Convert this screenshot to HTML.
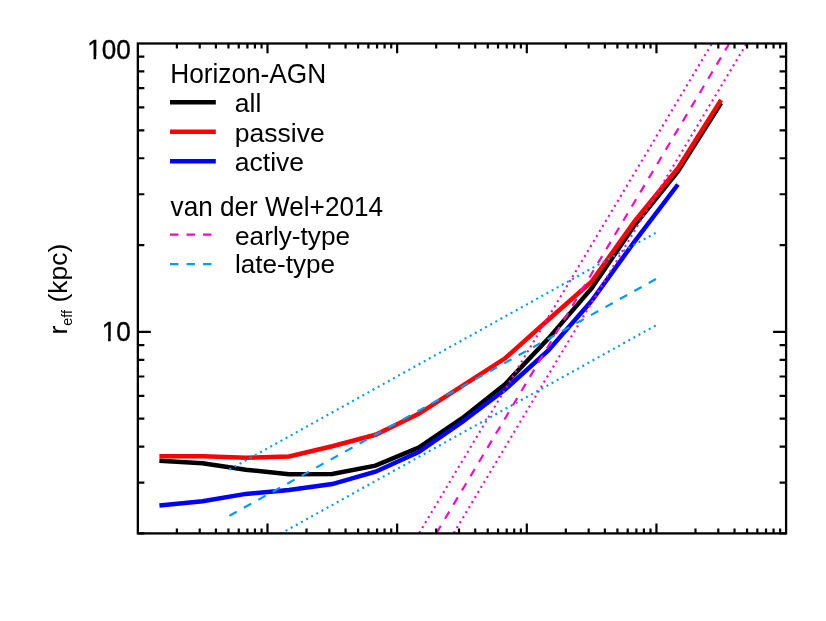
<!DOCTYPE html>
<html><head><meta charset="utf-8"><title>r_eff</title>
<style>html,body{margin:0;padding:0;background:#fff;}body{width:826px;height:621px;overflow:hidden;font-family:"Liberation Sans",sans-serif;}svg{display:block;will-change:transform}</style>
</head><body>
<svg width="826" height="621" viewBox="0 0 826 621">
<rect x="0" y="0" width="826" height="621" fill="#fff"/>
<clipPath id="c"><rect x="137.85" y="43.5" width="648.25" height="489.9"/></clipPath>
<g clip-path="url(#c)" fill="none">
<polyline points="159.4,460.7 202.6,463.2 245.8,469.7 289.0,474.3 332.2,473.9 375.5,465.6 418.7,447.5 461.9,418.4 505.1,384.2 548.3,338.6 591.5,288.5 634.7,225.0 677.9,171.5 721.1,103.1" stroke="#000" stroke-width="4.5"/>
<polyline points="159.4,456.3 202.6,456.3 245.8,457.8 289.0,456.4 332.2,446.2 375.5,434.8 418.7,413.9 461.9,386.2 505.1,358.3 548.3,319.8 591.5,281.8 634.7,221.0 677.9,168.3 721.1,99.9" stroke="#f00" stroke-width="4.5"/>
<polyline points="159.4,505.4 202.6,501.2 245.8,493.9 289.0,490.0 332.2,484.1 375.5,471.7 418.7,452.1 461.9,422.3 505.1,389.5 548.3,350.4 591.5,301.0 634.7,241.3 677.9,184.5" stroke="#00f" stroke-width="4.5"/>
<line x1="436.5" y1="533.0" x2="729.0" y2="44.0" stroke="#ff00cc" stroke-width="2.15" stroke-dasharray="8.4 8.14"/>
<line x1="419.2" y1="533.0" x2="711.7" y2="44.0" stroke="#ff00cc" stroke-width="2.15" stroke-dasharray="2.0 3.85"/>
<line x1="453.8" y1="533.0" x2="746.3" y2="44.0" stroke="#ff00cc" stroke-width="2.15" stroke-dasharray="2.0 3.85"/>
<line x1="229.4" y1="515.8" x2="656.0" y2="279.0" stroke="#0099ff" stroke-width="2.15" stroke-dasharray="8.4 8.14"/>
<line x1="229.4" y1="469.5" x2="656.0" y2="232.7" stroke="#0099ff" stroke-width="2.15" stroke-dasharray="2.0 3.85"/>
<line x1="229.4" y1="562.1" x2="656.0" y2="325.3" stroke="#0099ff" stroke-width="2.15" stroke-dasharray="2.0 3.85"/>
</g>
<g stroke="#000" fill="none">
<rect x="137.85" y="43.5" width="648.25" height="489.9" stroke-width="2.3"/>
<path d="M176.88,533.4v-4.9M176.88,43.5v4.9M199.71,533.4v-4.9M199.71,43.5v4.9M215.91,533.4v-4.9M215.91,43.5v4.9M228.47,533.4v-4.9M228.47,43.5v4.9M238.74,533.4v-4.9M238.74,43.5v4.9M247.42,533.4v-4.9M247.42,43.5v4.9M254.94,533.4v-4.9M254.94,43.5v4.9M261.57,533.4v-4.9M261.57,43.5v4.9M267.50,533.4v-9.8M267.50,43.5v9.8M306.53,533.4v-4.9M306.53,43.5v4.9M329.36,533.4v-4.9M329.36,43.5v4.9M345.56,533.4v-4.9M345.56,43.5v4.9M358.12,533.4v-4.9M358.12,43.5v4.9M368.39,533.4v-4.9M368.39,43.5v4.9M377.07,533.4v-4.9M377.07,43.5v4.9M384.59,533.4v-4.9M384.59,43.5v4.9M391.22,533.4v-4.9M391.22,43.5v4.9M397.15,533.4v-9.8M397.15,43.5v9.8M436.18,533.4v-4.9M436.18,43.5v4.9M459.01,533.4v-4.9M459.01,43.5v4.9M475.21,533.4v-4.9M475.21,43.5v4.9M487.77,533.4v-4.9M487.77,43.5v4.9M498.04,533.4v-4.9M498.04,43.5v4.9M506.72,533.4v-4.9M506.72,43.5v4.9M514.24,533.4v-4.9M514.24,43.5v4.9M520.87,533.4v-4.9M520.87,43.5v4.9M526.80,533.4v-9.8M526.80,43.5v9.8M565.83,533.4v-4.9M565.83,43.5v4.9M588.66,533.4v-4.9M588.66,43.5v4.9M604.86,533.4v-4.9M604.86,43.5v4.9M617.42,533.4v-4.9M617.42,43.5v4.9M627.69,533.4v-4.9M627.69,43.5v4.9M636.37,533.4v-4.9M636.37,43.5v4.9M643.89,533.4v-4.9M643.89,43.5v4.9M650.52,533.4v-4.9M650.52,43.5v4.9M656.45,533.4v-9.8M656.45,43.5v9.8M695.48,533.4v-4.9M695.48,43.5v4.9M718.31,533.4v-4.9M718.31,43.5v4.9M734.51,533.4v-4.9M734.51,43.5v4.9M747.07,533.4v-4.9M747.07,43.5v4.9M757.34,533.4v-4.9M757.34,43.5v4.9M766.02,533.4v-4.9M766.02,43.5v4.9M773.54,533.4v-4.9M773.54,43.5v4.9M780.17,533.4v-4.9M780.17,43.5v4.9M137.85,533.40h6.5M786.1,533.40h-6.5M137.85,482.62h6.5M786.1,482.62h-6.5M137.85,446.60h6.5M786.1,446.60h-6.5M137.85,418.65h6.5M786.1,418.65h-6.5M137.85,395.82h6.5M786.1,395.82h-6.5M137.85,376.52h6.5M786.1,376.52h-6.5M137.85,359.80h6.5M786.1,359.80h-6.5M137.85,345.05h6.5M786.1,345.05h-6.5M137.85,331.85h13.0M786.1,331.85h-13.0M137.85,245.05h6.5M786.1,245.05h-6.5M137.85,194.27h6.5M786.1,194.27h-6.5M137.85,158.25h6.5M786.1,158.25h-6.5M137.85,130.30h6.5M786.1,130.30h-6.5M137.85,107.47h6.5M786.1,107.47h-6.5M137.85,88.17h6.5M786.1,88.17h-6.5M137.85,71.44h6.5M786.1,71.44h-6.5M137.85,56.69h6.5M786.1,56.69h-6.5" stroke-width="2.2"/>
</g>
<g font-family="Liberation Sans, sans-serif" font-size="26.5" fill="#000">
<text transform="translate(130.7,59.3) scale(0.985,1.055)" text-anchor="end" stroke="#000" stroke-width="0.35">100</text>
<text transform="translate(130.7,340.7) scale(0.985,1.055)" text-anchor="end" stroke="#000" stroke-width="0.35">10</text>
<text transform="translate(170.2,82.9) scale(0.99,1.03)" text-anchor="start">Horizon-AGN</text>
<text x="234.8" y="111.7" text-anchor="start">all</text>
<text x="234.8" y="142.2" text-anchor="start">passive</text>
<text x="234.8" y="171.0" text-anchor="start">active</text>
<text transform="translate(170.6,215.6) scale(0.987,1.03)" text-anchor="start">van der Wel+2014</text>
<text transform="translate(235.0,245.0) scale(0.99,1.0)" text-anchor="start">early-type</text>
<text transform="translate(235.0,273.4) scale(0.985,1.0)" text-anchor="start">late-type</text>
<path d="M87.94,55.91H93.53V60.60H87.94ZM96.20,55.91H101.59V60.60H96.20ZM102.45,337.31H108.05V342.00H102.45ZM110.72,337.31H116.11V342.00H110.72Z" fill="#fff"/>
<text transform="translate(67,334.5) rotate(-90)">r<tspan font-size="14.4" dy="5.2">eff</tspan><tspan dy="-5.2"> (kpc)</tspan></text>
</g>
<g fill="none">
<line x1="170.0" x2="215.8" y1="102.35" y2="102.35" stroke="#000" stroke-width="4.5"/>
<line x1="170.0" x2="215.8" y1="131.8" y2="131.8" stroke="#f00" stroke-width="4.5"/>
<line x1="170.0" x2="215.8" y1="161.3" y2="161.3" stroke="#00f" stroke-width="4.5"/>
<line x1="170" x2="215.6" y1="234.6" y2="234.6" stroke="#ff00cc" stroke-width="2.15" stroke-dasharray="8.4 8.14"/>
<line x1="170" x2="215.6" y1="264.1" y2="264.1" stroke="#0099ff" stroke-width="2.15" stroke-dasharray="8.4 8.14"/>
</g>
</svg>
</body></html>
